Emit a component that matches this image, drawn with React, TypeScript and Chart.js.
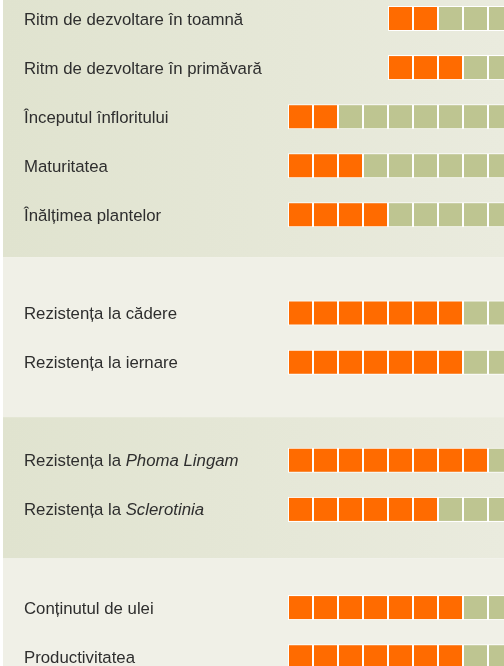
import React, { useEffect, useRef } from "react";
import { Chart, registerables } from "chart.js";

Chart.register(...registerables);

// Row labels (text between * * is drawn in italics)
const categories = [
  "Ritm de dezvoltare în toamnă",
  "Ritm de dezvoltare în primăvară",
  "Începutul înfloritului",
  "Maturitatea",
  "Înălțimea plantelor",
  "Rezistența la cădere",
  "Rezistența la iernare",
  "Rezistența la *Phoma Lingam*",
  "Rezistența la *Sclerotinia*",
  "Conținutul de ulei",
  "Productivitatea",
];
// which band/group each row belongs to
const groupIndex = [0, 0, 0, 0, 0, 1, 1, 2, 2, 3, 3];
// index of the first square shown on each row
const firstSquare = [4, 4, 0, 0, 0, 0, 0, 0, 0, 0, 0];
// number of orange (score) squares on each row
const orangeSquares = [2, 3, 2, 3, 4, 7, 7, 8, 6, 7, 7];
// squares per row (the scale continues beyond the right edge)
const totalSquares = 10;
// band separators, in row-slot units
const bandBreaks = [4.86, 8.12, 11.0];

const ORANGE = "#ff6b00";
const GREEN = "#bec591";
const TEXT = "#2e2e2e";
const FONT_SIZE = 16.8;
const FONT_FAMILY = '"Liberation Sans", Arial, Helvetica, sans-serif';

const slotOf = (r: number) => r + groupIndex[r];

function buildCells() {
  const orange: { x: [number, number]; y: number }[] = [];
  const green: { x: [number, number]; y: number }[] = [];
  categories.forEach((_, r) => {
    for (let j = firstSquare[r]; j < totalSquares; j++) {
      const cell = { x: [j, j + 1] as [number, number], y: slotOf(r) };
      if (j < firstSquare[r] + orangeSquares[r]) orange.push(cell);
      else green.push(cell);
    }
  });
  return { orange, green };
}

const bandPlugin = {
  id: "bands",
  beforeDraw(chart: any) {
    const { ctx, width, height } = chart;
    const y = chart.scales.y;
    const edges = [0, ...bandBreaks.map((v) => y.getPixelForValue(v)), height];
    ctx.save();
    for (let g = 0; g < edges.length - 1; g++) {
      if (g % 2 === 0) {
        const grad = ctx.createLinearGradient(0, 0, width, 0);
        grad.addColorStop(0, "#e0e3cf");
        grad.addColorStop(1, "#eaebde");
        ctx.fillStyle = grad;
      } else {
        ctx.fillStyle = "#f0f0e7";
      }
      ctx.fillRect(0, edges[g], width, edges[g + 1] - edges[g]);
    }
    ctx.restore();
  },
};

const labelPlugin = {
  id: "rowLabels",
  afterDraw(chart: any) {
    const { ctx } = chart;
    const y = chart.scales.y;
    ctx.save();
    ctx.fillStyle = TEXT;
    ctx.textBaseline = "alphabetic";
    ctx.textAlign = "left";
    categories.forEach((label, r) => {
      const py = y.getPixelForValue(slotOf(r)) + FONT_SIZE * 0.36;
      let px = 21;
      const parts = label.split("*");
      parts.forEach((part, k) => {
        if (!part) return;
        ctx.font = `${k % 2 === 1 ? "italic " : ""}${FONT_SIZE}px ${FONT_FAMILY}`;
        ctx.fillText(part, px, py);
        px += ctx.measureText(part).width;
      });
    });
    ctx.restore();
  },
};

export default function App() {
  const ref = useRef<HTMLCanvasElement | null>(null);

  useEffect(() => {
    document.body.style.margin = "0";
    const canvas = ref.current;
    if (!canvas) return;
    const { orange, green } = buildCells();
    const common = {
      borderColor: "#ffffff",
      borderWidth: 1,
      borderSkipped: false,
      barThickness: 25,
      grouped: false,
      inflateAmount: 0,
    };
    const chart = new Chart(canvas, {
      type: "bar",
      data: {
        datasets: [
          { label: "scor", data: orange as any, backgroundColor: ORANGE, ...common } as any,
          { label: "rest", data: green as any, backgroundColor: GREEN, ...common } as any,
        ],
      },
      options: {
        indexAxis: "y",
        animation: false,
        responsive: false,
        devicePixelRatio: 1,
        events: [],
        layout: { padding: { left: 285, right: 0, top: 0, bottom: 0 } },
        plugins: {
          legend: { display: false },
          tooltip: { enabled: false },
          title: { display: false },
        },
        scales: {
          x: { type: "linear", min: 0, max: 216 / 25, display: false, offset: false },
          y: {
            type: "linear",
            reverse: true,
            min: -0.377,
            max: 13.19,
            display: false,
            offset: false,
            grid: { offset: false },
          },
        },
      },
      plugins: [bandPlugin, labelPlugin],
    });
    return () => chart.destroy();
  }, []);

  return (
    <div
      style={{
        position: "fixed",
        left: 0,
        top: 0,
        width: 504,
        height: 666,
        background: "#ffffff",
        overflow: "hidden",
      }}
    >
      <canvas
        ref={ref}
        width={501}
        height={666}
        style={{ position: "absolute", left: 3, top: 0, display: "block" }}
      />
    </div>
  );
}
